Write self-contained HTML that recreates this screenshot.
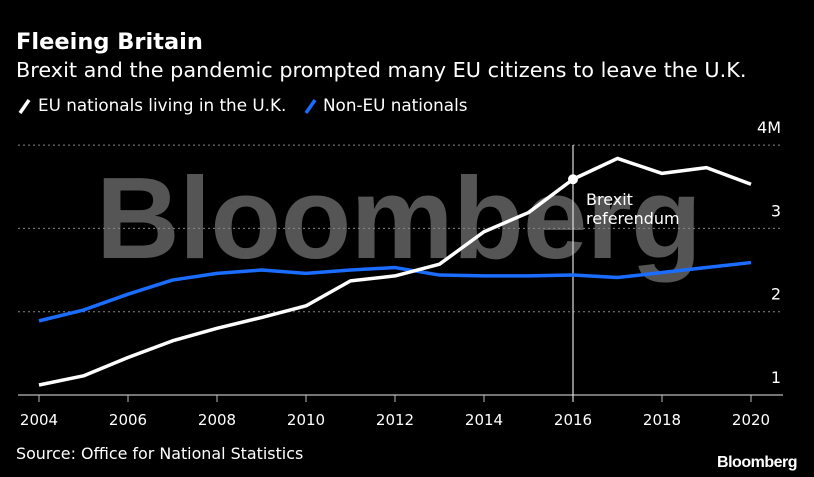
<!DOCTYPE html>
<html><head><meta charset="utf-8"><style>
body{margin:0;background:#000;width:814px;height:477px;overflow:hidden;font-family:"DejaVu Sans","Liberation Sans",sans-serif;color:#fff}
</style></head><body>
<svg width="814" height="477" style="position:absolute;left:0;top:0">
<text x="16" y="49" font-size="22.5" font-weight="bold" fill="#fff">Fleeing Britain</text>
<text x="16" y="77" font-size="20.8" fill="#fff">Brexit and the pandemic prompted many EU citizens to leave the U.K.</text>
<g><line x1="20" y1="113" x2="29" y2="100" stroke="#fff" stroke-width="3.5"/><text x="38" y="111" font-size="16.8" fill="#fff">EU nationals living in the U.K.</text></g>
<g><line x1="306" y1="113" x2="315" y2="100" stroke="#1a6dff" stroke-width="3.5"/><text x="323" y="111" font-size="16.8" fill="#fff">Non-EU nationals</text></g>
<text x="96" y="258" font-size="116" font-weight="bold" fill="#555" letter-spacing="-0.8" font-family="Liberation Sans, sans-serif">Bloomberg</text>
<g id="grid"></g><g id="series"></g>
<text x="16" y="459" font-size="15.9" fill="#fff">Source: Office for National Statistics</text>
<text x="797" y="467" font-size="16" font-weight="bold" fill="#fff" text-anchor="end" letter-spacing="-0.5" font-family="Liberation Sans, sans-serif">Bloomberg</text>
</svg>
<script>
const years=[2004,2005,2006,2007,2008,2009,2010,2011,2012,2013,2014,2015,2016,2017,2018,2019,2020];
const euValues=[1.12,1.23,1.45,1.65,1.80,1.93,2.07,2.37,2.43,2.57,2.96,3.19,3.59,3.84,3.66,3.73,3.53];
const nonEuValues=[1.89,2.02,2.21,2.38,2.46,2.50,2.46,2.50,2.53,2.44,2.43,2.43,2.44,2.41,2.47,2.53,2.59];
const yTicks=[1,2,3,4];
const yTickLabels=["1","2","3","4M"];
const xTicks=[2004,2006,2008,2010,2012,2014,2016,2018,2020];
const ns="http://www.w3.org/2000/svg";
const X=y=>39+(y-2004)*44.5, Y=v=>395-(v-1)*83.3;
function mk(t,a,p){const e=document.createElementNS(ns,t);for(const k in a)e.setAttribute(k,a[k]);p.appendChild(e);return e;}
const g=document.getElementById('grid'), s=document.getElementById('series');
yTicks.forEach((v,i)=>{
 if(v>1){const l=mk('line',{x1:18,x2:783,y1:Y(v),y2:Y(v),stroke:'#888','stroke-dasharray':'2 3','stroke-width':1},g);
 
 }
 const t=mk('text',{x:781,y:Y(v)-12,'font-size':16,fill:'#fff','text-anchor':'end'},g);t.textContent=yTickLabels[i];
 
 
});
const ax=mk('line',{x1:18,x2:783,y1:395,y2:395,stroke:'#bbb','stroke-width':1.2},g);


xTicks.forEach(y=>{
 mk('line',{x1:X(y),x2:X(y),y1:395,y2:402,stroke:'#bbb'},g);
 const t=mk('text',{x:X(y),y:425,'font-size':15,fill:'#fff','text-anchor':'middle'},g);t.textContent=y;
 
 
});
const ref=mk('line',{x1:X(2016),x2:X(2016),y1:145,y2:402,stroke:'#ddd','stroke-width':1.2},g);


function line(vals,col,name){const p=mk('polyline',{points:vals.map((v,i)=>X(years[i])+','+Y(v)).join(' '),fill:'none',stroke:col,'stroke-width':3.5,'stroke-linejoin':'round'},s);
 
 }
line(nonEuValues,'#1a6dff','non-eu-line');
line(euValues,'#fff','eu-line');
const d=mk('circle',{cx:X(2016),cy:Y(euValues[12]),r:5,fill:'#fff'},s);


const a=mk('text',{x:X(2016)+13,y:205,'font-size':16,fill:'#fff'},s);


a.innerHTML='<tspan x="'+(X(2016)+13)+'">Brexit</tspan><tspan x="'+(X(2016)+13)+'" dy="19">referendum</tspan>';
</script>
</body></html>
